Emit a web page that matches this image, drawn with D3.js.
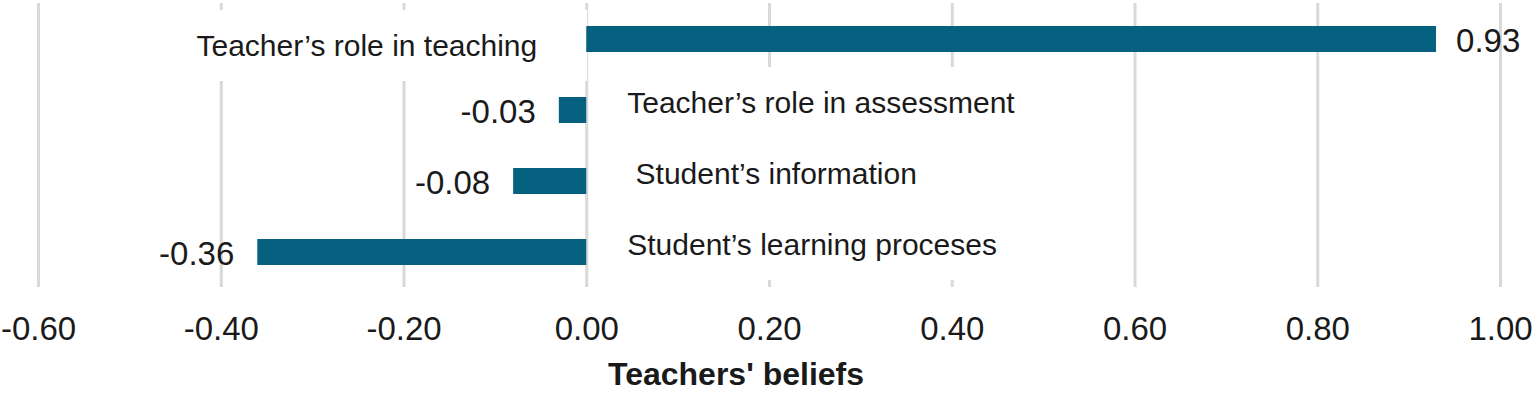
<!DOCTYPE html>
<html>
<head>
<meta charset="utf-8">
<script src="https://cdn.jsdelivr.net/npm/d3@7"></script>
<style>
  body { margin: 0; background: #fff; }
  text { font-family: Arial, "Liberation Sans", sans-serif; fill: #1a1a1a; }
  .grid line { stroke: #d9d9d9; stroke-width: 3; }
  .grid path { display: none; }
  .x.axis path, .x.axis line { display: none; }
  .cat { white-space: pre; }
</style>
</head>
<body>
<div id="chart"></div>
<script>
const categories = ["Teacher\u2019s role in teaching", "Teacher\u2019s role in assessment", " Student\u2019s information", "Student\u2019s learning proceses"]
const values = [0.93, -0.03, -0.08, -0.36]
const valueLabels = ["0.93", "-0.03", "-0.08", "-0.36"]
const xTicks = [-0.6, -0.4, -0.2, 0, 0.2, 0.4, 0.6, 0.8, 1.0]
const axisTitle = "Teachers' beliefs"

const W = 1535, H = 395
const barColor = "#05617f"

const x = d3.scaleLinear().domain([-0.6, 1.0]).range([38, 1500])
const y = d3.scaleBand().domain(categories).range([3.5, 287.5]).paddingInner(0.634).paddingOuter(0.317)

const svg = d3.select("#chart").append("svg")
  .attr("width", W)
  .attr("height", H)

// vertical gridlines
svg.append("g")
  .attr("class", "grid")
  .attr("transform", "translate(0,287)")
  .call(d3.axisBottom(x).tickValues(xTicks).tickSize(-284).tickFormat(""))

// category labels sit on white boxes which hide the gridlines
const catG = svg.append("g")
const rows = categories.map((c, i) => ({ c, v: values[i], lab: valueLabels[i] }))

rows.forEach(d => {
  const cy = y(d.c) + y.bandwidth() / 2
  const ty = d.v >= 0 ? cy + 6 : cy - 8
  const t = catG.append("text")
    .attr("class", "cat")
    .attr("font-size", 30)
    .attr("dominant-baseline", "central")
    .attr("y", ty)
    .text(d.c)
  if (d.v >= 0) {
    t.attr("text-anchor", "end").attr("x", x(0) - 49)
  } else {
    t.attr("text-anchor", "start").attr("x", x(0) + 41)
  }
  const bb = t.node().getBBox()
  catG.insert("rect", "text")
    .attr("x", bb.x - 14)
    .attr("y", ty - 35)
    .attr("width", bb.width + 64)
    .attr("height", 71)
    .attr("fill", "#fff")
})

// bars
svg.append("g").selectAll("rect")
  .data(rows)
  .join("rect")
  .attr("x", d => x(Math.min(0, d.v)))
  .attr("width", d => Math.abs(x(d.v) - x(0)))
  .attr("y", d => y(d.c))
  .attr("height", y.bandwidth())
  .attr("fill", barColor)

// value labels
svg.append("g").selectAll("text")
  .data(rows)
  .join("text")
  .attr("font-size", 33)
  .attr("dominant-baseline", "central")
  .attr("text-anchor", d => d.v >= 0 ? "start" : "end")
  .attr("x", d => d.v >= 0 ? x(d.v) + 20 : x(d.v) - 23)
  .attr("y", d => y(d.c) + y.bandwidth() / 2 + 1)
  .text(d => d.lab)

// x axis labels
svg.append("g")
  .attr("class", "x axis")
  .attr("transform", "translate(0,300)")
  .call(d3.axisBottom(x).tickValues(xTicks).tickSize(0).tickPadding(0)
    .tickFormat(d => d3.format(".2f")(d).replace("\u2212", "-")))
  .selectAll("text")
  .attr("font-size", 33)
  .attr("dy", null)
  .attr("dominant-baseline", "central")
  .attr("y", 28)

svg.append("text")
  .attr("x", 736)
  .attr("y", 374)
  .attr("font-size", 32)
  .attr("font-weight", "bold")
  .attr("text-anchor", "middle")
  .attr("dominant-baseline", "central")
  .text(axisTitle)
</script>
</body>
</html>
